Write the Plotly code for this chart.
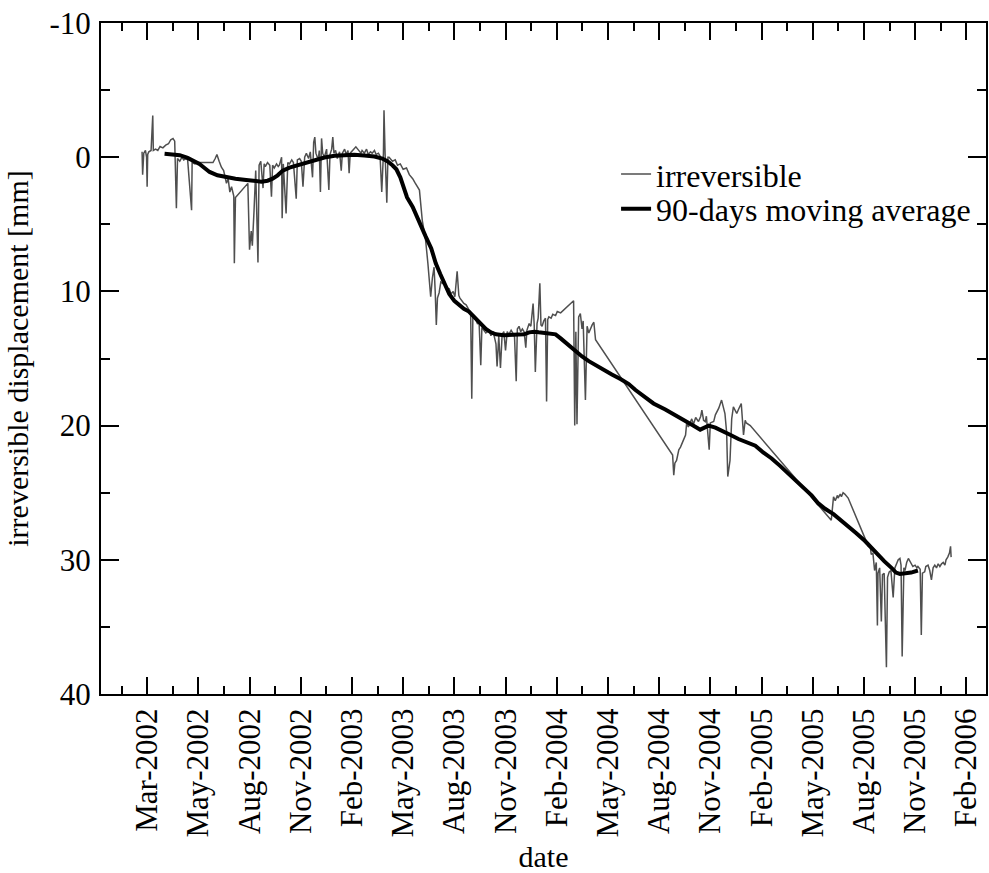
import pandas as pd
import plotly.graph_objects as go

# Monitoring start: day 0 of the day counters below
START = pd.Timestamp("2002-03-01")

# Irreversible displacement [mm], sampled as days since START
irr_day = [
    -9, -8, -6, -3, -1, 0, 1, 3, 7, 10, 11, 15, 19, 23, 28, 33, 38, 42, 46, 49,
    52, 54, 58, 62, 65, 69, 72, 79, 80, 85, 90, 117, 121, 124, 128, 132, 136, 141, 144, 147,
    150, 154, 155, 157, 179, 182, 185, 187, 190, 193, 197, 199, 202, 206, 208, 210, 214, 218, 221, 223,
    226, 230, 233, 235, 239, 240, 242, 247, 250, 253, 257, 260, 265, 267, 271, 274, 277, 280, 283, 287,
    290, 294, 296, 298, 300, 304, 306, 308, 310, 312, 315, 319, 323, 325, 328, 330, 332, 335, 338, 342,
    345, 347, 351, 354, 357, 359, 361, 371, 380, 382, 386, 390, 393, 397, 400, 404, 407, 411, 414, 417,
    420, 421, 423, 426, 428, 430, 436, 441, 445, 450, 455, 461, 466, 472, 476, 481, 484, 489, 495, 499,
    501, 504, 507, 510, 512, 514, 516, 519, 522, 525, 528, 531, 537, 540, 544, 547, 551, 554, 556, 560,
    563, 567, 572, 575, 577, 579, 584, 587, 590, 593, 595, 599, 602, 605, 608, 611, 615, 620, 622, 625,
    628, 631, 634, 637, 640, 643, 647, 650, 653, 656, 658, 661, 664, 667, 670, 673, 675, 679, 682, 686,
    688, 690, 693, 695, 698, 700, 702, 705, 708, 710, 712, 714, 718, 721, 726, 729, 735, 758, 760, 762,
    764, 767, 770, 773, 775, 779, 782, 785, 789, 791, 794, 797, 934, 936, 938, 941, 945, 948, 953, 957,
    959, 962, 968, 971, 975, 980, 984, 986, 989, 992, 994, 999, 1001, 1007, 1010, 1016, 1021, 1024, 1027, 1030,
    1032, 1036, 1039, 1042, 1048, 1051, 1056, 1060, 1063, 1065, 1072, 1216, 1220, 1223, 1227, 1228, 1232, 1234, 1237, 1240,
    1243, 1246, 1279, 1282, 1285, 1287, 1290, 1293, 1296, 1298, 1299, 1302, 1305, 1307, 1310, 1314, 1316, 1319, 1322, 1326,
    1329, 1332, 1335, 1338, 1340, 1342, 1345, 1347, 1350, 1353, 1356, 1358, 1361, 1365, 1368, 1370, 1374, 1376, 1378, 1382,
    1384, 1388, 1391, 1394, 1397, 1400, 1403, 1406, 1409, 1412, 1415, 1418, 1420, 1423, 1426, 1428, 1429,
]
irr_mm = [
    -0.4, 1.3, -0.3, -0.5, 0.0, 2.2, -0.2, -0.4, -0.5, -3.1, -0.5, -0.6, -0.5, -0.8, -0.7, -0.9, -1.0, -1.3, -1.4, -1.2,
    3.8, 0.1, 0.3, 0.0, 0.2, 0.1, 0.2, 3.95, 0.4, 0.5, 0.4, 0.4, 0.1, -0.2, 0.3, 0.75, 1.0, 1.95, 1.6, 2.6,
    2.2, 2.9, 7.9, 3.0, 1.95, 6.9, 5.5, 6.6, 4.0, 1.0, 7.85, 0.6, 0.3, 2.3, 0.5, 0.7, 0.4, 0.6, 2.95, 0.6,
    0.8, 0.5, 0.7, 0.6, 0.0, 4.55, 0.5, 4.2, 0.4, 0.5, 0.2, 0.4, 3.1, 0.2, 0.1, 0.3, 2.2, 0.0, -0.3, 0.1,
    -0.4, 1.5, -1.1, -1.5, -0.3, 0.2, -0.5, 2.6, -1.4, -0.3, 0.0, -0.6, 2.45, -0.2, -0.6, -1.5, -0.3, -0.5, 0.1, -0.4,
    1.0, -0.3, -0.6, -0.2, -0.5, 1.2, -0.3, -0.77, -0.3, -0.5, -0.3, -0.6, -0.2, -0.4, -0.3, -0.5, -0.2, -0.3, -0.1, 2.6,
    -0.3, -3.5, -0.2, 3.4, 0.0, 0.0, 0.3, 0.2, 0.6, 0.5, 0.9, 0.8, 1.3, 1.6, 1.9, 2.2, 2.45, 4.7, 6.2, 7.9,
    9.2, 10.4, 9.0, 8.2, 10.0, 12.5, 10.5, 10.1, 9.3, 9.4, 9.2, 9.7, 9.8, 10.2, 10.0, 10.4, 8.5, 10.3, 10.5, 10.7,
    10.9, 11.0, 11.4, 11.6, 18.0, 11.8, 12.1, 12.4, 12.3, 15.5, 12.7, 12.9, 13.1, 13.0, 12.9, 13.3, 13.0, 13.9, 15.6, 13.3,
    15.7, 13.2, 13.0, 14.4, 13.0, 13.2, 12.9, 13.1, 13.4, 16.7, 12.8, 12.6, 13.0, 12.8, 13.0, 14.2, 12.9, 12.4, 12.6, 10.9,
    12.5, 16.0, 12.4, 12.0, 9.4, 12.5, 12.6, 12.2, 12.0, 18.2, 12.1, 11.9, 12.0, 11.7, 11.8, 11.5, 11.6, 10.7, 20.0, 13.0,
    19.9, 11.9, 11.65, 12.8, 12.2, 18.1, 12.6, 13.1, 12.6, 12.5, 12.3, 13.6, 22.2, 23.7, 22.8, 22.6, 21.8, 21.6, 21.1, 20.7,
    19.8, 20.1, 19.5, 19.9, 19.4, 19.7, 19.3, 18.85, 19.6, 19.7, 19.3, 21.8, 19.8, 19.7, 19.2, 18.7, 18.1, 18.7, 19.1, 20.5,
    23.8, 22.6, 19.5, 18.6, 19.1, 18.8, 18.35, 20.7, 19.6, 19.8, 20.0, 27.05, 25.3, 25.6, 25.2, 25.4, 25.1, 25.3, 25.0, 25.1,
    25.3, 25.4, 28.7, 29.0, 28.9, 29.6, 29.5, 30.8, 30.2, 34.9, 31.0, 30.6, 34.6, 31.1, 31.0, 38.0, 31.3, 30.9, 30.8, 32.8,
    30.6, 30.3, 30.0, 29.9, 30.4, 37.2, 30.6, 30.8, 30.2, 29.9, 30.1, 30.3, 30.5, 30.4, 30.6, 30.5, 30.7, 35.6, 31.0, 30.9,
    30.5, 30.4, 30.8, 31.5, 30.6, 30.4, 30.6, 30.3, 30.5, 30.3, 30.2, 30.4, 30.0, 29.8, 29.5, 29.0, 29.8,
]

# 90-day moving average [mm], days since START
avg_day = [
    31, 44, 58, 72, 85, 93, 102, 111, 125, 141, 157, 176, 191, 203, 214, 223, 232, 241, 253, 271,
    285, 300, 315, 333, 351, 368, 386, 404, 418, 427, 436, 443, 450, 455, 462, 472, 484, 495, 505, 513,
    521, 528, 537, 546, 555, 563, 572, 581, 590, 602, 611, 620, 634, 649, 661, 670, 679, 688, 696, 711,
    726, 735, 750, 762, 773, 785, 797, 812, 826, 842, 856, 868, 883, 900, 921, 939, 957, 969, 983, 989,
    998, 1010, 1021, 1037, 1051, 1065, 1081, 1095, 1110, 1125, 1140, 1154, 1169, 1181, 1193, 1205, 1220, 1232, 1246, 1260,
    1276, 1287, 1299, 1310, 1323, 1331, 1338, 1347, 1358, 1370,
]
avg_mm = [
    -0.25, -0.2, -0.15, 0.05, 0.3, 0.5, 0.8, 1.1, 1.35, 1.5, 1.6, 1.7, 1.8, 1.82, 1.75, 1.6, 1.35, 1.0, 0.78, 0.55,
    0.38, 0.17, 0.02, -0.1, -0.15, -0.18, -0.12, -0.05, 0.1, 0.3, 0.6, 0.9, 1.5, 2.1, 3.0, 3.7, 4.9, 5.9, 6.8, 7.9,
    8.7, 9.4, 10.2, 10.7, 11.0, 11.3, 11.5, 11.9, 12.3, 12.8, 13.05, 13.2, 13.26, 13.26, 13.26, 13.2, 13.05, 13.0, 13.05, 13.15,
    13.2, 13.5, 14.05, 14.45, 14.85, 15.2, 15.5, 15.9, 16.2, 16.55, 16.9, 17.35, 17.85, 18.35, 18.8, 19.2, 19.6, 19.95, 20.3, 20.15,
    20.0, 20.15, 20.35, 20.7, 21.0, 21.25, 21.5, 22.0, 22.45, 23.0, 23.6, 24.1, 24.8, 25.2, 25.8, 26.2, 26.6, 27.0, 27.5, 28.0,
    28.6, 29.1, 29.6, 30.1, 30.6, 30.95, 31.05, 31.0, 30.95, 30.8,
]

# Date axis: labelled ticks every 13 weeks from START, minor ticks half-way between
tick_labels = [
    "Mar-2002", "May-2002", "Aug-2002", "Nov-2002", "Feb-2003", "May-2003",
    "Aug-2003", "Nov-2003", "Feb-2004", "May-2004", "Aug-2004", "Nov-2004",
    "Feb-2005", "May-2005", "Aug-2005", "Nov-2005", "Feb-2006",
]
TICK_STEP_DAYS = 91
x_range = ["2001-12-09", "2006-03-31"]

y_ticks = [-10, 0, 10, 20, 30, 40]
y_tick_labels = ["-10", "0", "10", "20", "30", "40"]

FONT = "Liberation Serif, Times New Roman, Times, serif"

irr_dates = START + pd.to_timedelta(irr_day, unit="D")
avg_dates = START + pd.to_timedelta(avg_day, unit="D")
major_ticks = [START + pd.Timedelta(days=TICK_STEP_DAYS * k) for k in range(len(tick_labels))]
minor_ticks = [START + pd.Timedelta(days=TICK_STEP_DAYS * (k - 0.5)) for k in range(len(tick_labels) + 1)]

fig = go.Figure()
fig.add_trace(go.Scatter(
    x=irr_dates, y=irr_mm, mode="lines", name="irreversible",
    line=dict(color="#4f4f4f", width=1.5), legend="legend",
))
fig.add_trace(go.Scatter(
    x=avg_dates, y=avg_mm, mode="lines", name="90-days moving average",
    line=dict(color="black", width=4), legend="legend2",
))

axis_common = dict(
    showline=True, linecolor="black", linewidth=2, mirror="allticks",
    ticks="inside", tickcolor="black", tickwidth=2,
    showgrid=False, zeroline=False,
    tickfont=dict(family=FONT, size=31, color="black"),
    title_font=dict(family=FONT, size=30, color="black"),
)

fig.update_xaxes(
    type="date", range=x_range,
    tickmode="array", tickvals=major_ticks, ticktext=tick_labels,
    tickangle=-90, ticklen=17,
    minor=dict(tickmode="array", tickvals=minor_ticks, ticks="inside",
               ticklen=8, tickwidth=2, tickcolor="black", showgrid=False),
    title=dict(text="date", standoff=10),
    **axis_common,
)
fig.update_yaxes(
    range=[40, -10],
    tickmode="array", tickvals=y_ticks, ticktext=y_tick_labels, ticklen=18,
    ticklabelstandoff=2,
    minor=dict(dtick=5, ticks="inside", ticklen=9, tickwidth=2,
               tickcolor="black", showgrid=False),
    title=dict(text="irreversible displacement [mm]", standoff=12),
    **axis_common,
)

legend_common = dict(
    xanchor="left", yanchor="middle", bgcolor="rgba(0,0,0,0)",
    font=dict(family=FONT, size=32, color="black"), itemwidth=30,
)
fig.update_layout(
    width=989, height=873,
    margin=dict(l=101, r=1, t=23, b=179),
    paper_bgcolor="white", plot_bgcolor="white",
    showlegend=True,
    legend=dict(x=0.582, y=0.7745, **legend_common),
    legend2=dict(x=0.582, y=0.723, **legend_common),
)

fig.write_html("out.html")
